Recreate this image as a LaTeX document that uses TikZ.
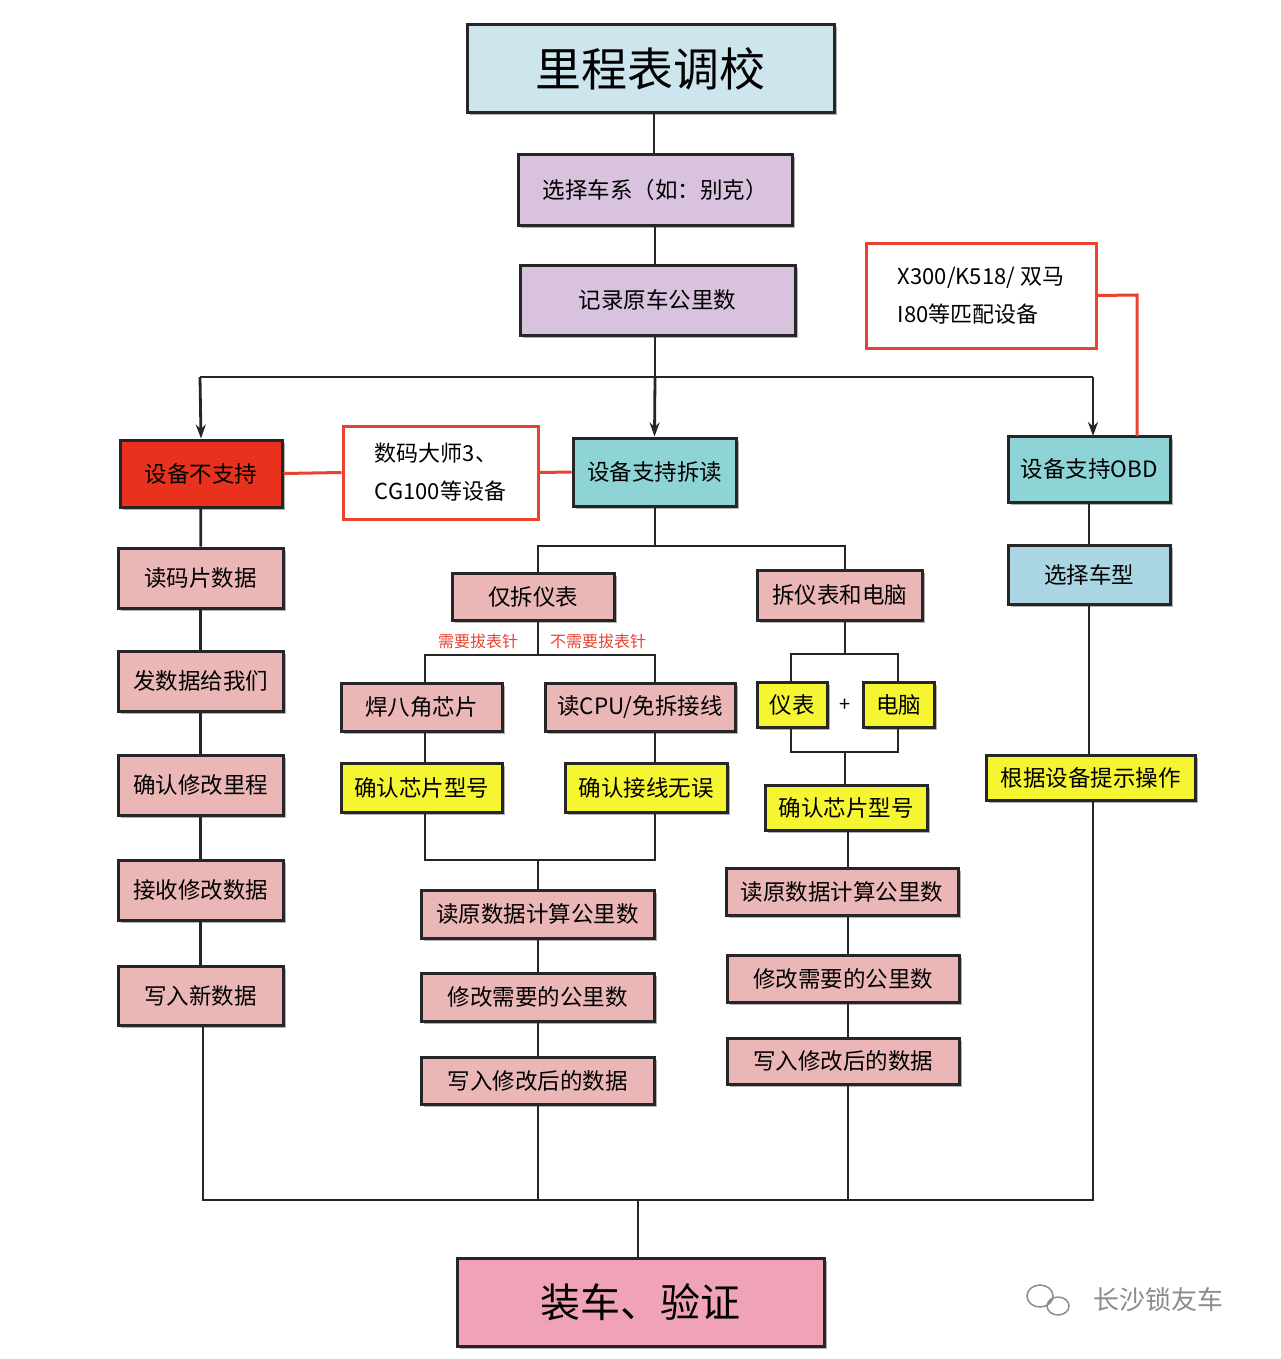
\documentclass[tikz,border=0pt]{standalone}
\usepackage{fontspec}
\setmainfont{Noto Sans CJK SC}
\usetikzlibrary{arrows.meta,shadows}
\definecolor{ttl}{HTML}{CDE6EE}
\definecolor{lav}{HTML}{D8C2DE}
\definecolor{redb}{HTML}{E8321E}
\definecolor{teal}{HTML}{8ED4D6}
\definecolor{lblue}{HTML}{A9D6E2}
\definecolor{pinkb}{HTML}{EBB6B6}
\definecolor{yel}{HTML}{F5F532}
\definecolor{endp}{HTML}{F0A3B6}
\definecolor{lred}{HTML}{E8432E}
\begin{document}
\begin{tikzpicture}[x=1pt,y=-1pt,
  bx/.style={draw=black!85,line width=3pt,inner sep=0pt,align=center,font=\fontsize{22.5}{24}\selectfont,
    drop shadow={shadow xshift=2.5pt,shadow yshift=-2.5pt,fill=black!60}},
  rb/.style={draw=lred,line width=3pt,fill=white,inner sep=0pt,align=left,font=\fontsize{22}{38}\selectfont},
  ln/.style={line width=2.8pt,black!85},
  rl/.style={line width=3pt,lred},
  ar/.style={ln,-{Stealth[length=14pt,width=10pt]}},
  lb/.style={text=lred,font=\fontsize{16}{16}\selectfont}]
\useasboundingbox (0,0) rectangle (1280,1359);
\fill[white] (0,0) rectangle (1280,1359);
\def\B#1#2#3#4#5#6#7{\node[bx,fill=#6,minimum width=#3-#2,minimum height=#5-#4] (#1) at ({(#2+#3)/2},{(#4+#5)/2}) {#7};}
\B{t}{467}{834}{25}{113}{ttl}{\fontsize{46}{48}\selectfont 里程表调校}
\B{s}{518}{792}{155}{225}{lav}{选择车系（如：别克）}
\B{r}{520}{795}{265}{335}{lav}{记录原车公里数}
\B{n}{120}{282}{440}{507}{redb}{设备不支持}
\B{c}{573}{736}{438}{506}{teal}{设备支持拆读}
\B{o}{1008}{1170}{436}{502}{teal}{设备支持OBD}
\B{ox}{1008}{1170}{545}{604}{lblue}{选择车型}
\B{oy}{986}{1195}{755}{800}{yel}{根据设备提示操作}
\B{l1}{118}{283}{548}{608}{pinkb}{读码片数据}
\B{l2}{118}{283}{651}{711}{pinkb}{发数据给我们}
\B{l3}{118}{283}{755}{815}{pinkb}{确认修改里程}
\B{l4}{118}{283}{860}{920}{pinkb}{接收修改数据}
\B{l5}{118}{283}{966}{1025}{pinkb}{写入新数据}
\B{m}{452}{614}{573}{620}{pinkb}{仅拆仪表}
\B{k}{757}{922}{570}{620}{pinkb}{拆仪表和电脑}
\B{ha}{341}{502}{683}{731}{pinkb}{焊八角芯片}
\B{hb}{545}{735}{683}{731}{pinkb}{读CPU/免拆接线}
\B{ya}{341}{502}{763}{812}{yel}{确认芯片型号}
\B{yb}{565}{727}{763}{812}{yel}{确认接线无误}
\B{m1}{421}{654}{890}{938}{pinkb}{读原数据计算公里数}
\B{m2}{421}{654}{973}{1021}{pinkb}{修改需要的公里数}
\B{m3}{421}{654}{1057}{1104}{pinkb}{写入修改后的数据}
\B{yi}{757}{827}{682}{727}{yel}{仪表}
\B{dn}{863}{934}{682}{727}{yel}{电脑}
\B{kc}{765}{927}{785}{830}{yel}{确认芯片型号}
\B{k1}{726}{958}{868}{915}{pinkb}{读原数据计算公里数}
\B{k2}{727}{959}{955}{1002}{pinkb}{修改需要的公里数}
\B{k3}{727}{959}{1038}{1084}{pinkb}{写入修改后的数据}
\B{e}{457}{824}{1258}{1346}{endp}{\fontsize{40}{44}\selectfont 装车、验证}
\node[rb,minimum width=195,minimum height=93] (dm) at (440.5,472.5) {数码大师3、\\CG100等设备};
\node[rb,minimum width=230,minimum height=105] (xk) at (981,295.5) {X300/K518/ 双马\\I80等匹配设备};
\node at (845,705) {\fontsize{20}{20}\selectfont +};
\node[lb] at (478,641) {需要拔表针};
\node[lb] at (598,641) {不需要拔表针};
% main
\draw[ln] (654,113) -- (654,155); \draw[ln] (655,225) -- (655,265);
\draw[ln] (655,335) -- (655,377);
\draw[ln] (200,377) -- (1093,377);
\draw[ar] (200,377) -- (n.north);
\draw[ar] (655,377) -- (c.north);
\draw[ar] (1093,377) -- (1093,436);
\draw[rl] (n.east) -- (dm.west); \draw[rl] (dm.east) -- (c.west);
\draw[rl] (xk.east) -- (1137,295) -- (1137,436);
% left
\draw[ln] (n) -- (l1); \draw[ln] (l1) -- (l2); \draw[ln] (l2) -- (l3); \draw[ln] (l3) -- (l4); \draw[ln] (l4) -- (l5);
% OBD
\draw[ln] (1089,502) -- (1089,545); \draw[ln] (1089,604) -- (1089,755);
% middle
\draw[ln] (655,506) -- (655,546); \draw[ln] (538,573) -- (538,546) -- (845,546) -- (845,570);
\draw[ln] (538,620) -- (538,655); \draw[ln] (425,683) -- (425,655) -- (655,655) -- (655,683);
\draw[ln] (425,731) -- (425,763); \draw[ln] (655,731) -- (655,763);
\draw[ln] (425,812) -- (425,860) -- (655,860) -- (655,812);
\draw[ln] (538,860) -- (538,890);
\draw[ln] (538,938) -- (538,973); \draw[ln] (538,1021) -- (538,1057);
% right mid
\draw[ln] (845,620) -- (845,654); \draw[ln] (791,682) -- (791,654) -- (898,654) -- (898,682);
\draw[ln] (791,727) -- (791,752) -- (898,752) -- (898,727);
\draw[ln] (845,752) -- (845,785);
\draw[ln] (848,830) -- (848,868); \draw[ln] (848,915) -- (848,955); \draw[ln] (848,1002) -- (848,1038);
% bottom
\draw[ln] (203,1025) -- (203,1200) -- (1093,1200) -- (1093,800);
\draw[ln] (538,1104) -- (538,1200);
\draw[ln] (848,1084) -- (848,1200);
\draw[ln] (638,1200) -- (638,1258);
% watermark
\node[text=black!45,font=\fontsize{26}{28}\selectfont] (wm) at (1158,1300) {长沙锁友车};
\draw[black!45,line width=1.5pt] (1040,1296) ellipse (13 and 11) (1058,1306) ellipse (11 and 9);
\end{tikzpicture}
\end{document}
